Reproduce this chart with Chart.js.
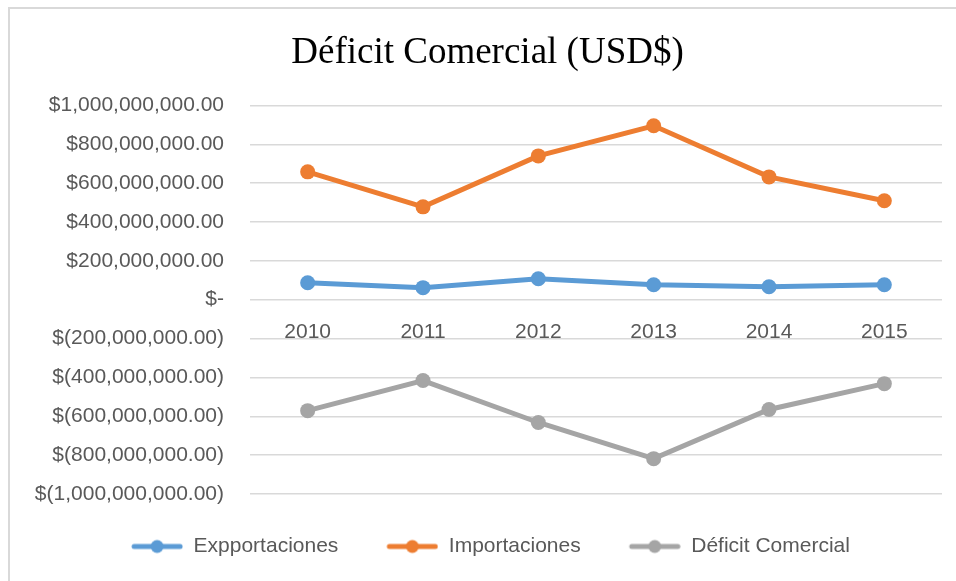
<!DOCTYPE html>
<html>
<head>
<meta charset="utf-8">
<title>Déficit Comercial (USD$)</title>
<script src="https://cdn.jsdelivr.net/npm/chart.js@4.4.1/dist/chart.umd.min.js"></script>
<style>
  html, body { margin: 0; padding: 0; background: #fff; overflow: hidden; }
  #frame {
    position: absolute; left: 8px; top: 7px; width: 1000px; height: 700px;
    border: 2px solid #d9d9d9; box-sizing: border-box;
  }
  #wrap { position: absolute; left: 0; top: 0; width: 956px; height: 581px; }
</style>
</head>
<body>
<div id="frame"></div>
<div id="wrap"><canvas id="chart"></canvas></div>
<script>
  // Data
  var years = ["2010", "2011", "2012", "2013", "2014", "2015"];
  var exportaciones = [87000000, 62000000, 108000000, 77000000, 67000000, 77000000];
  var importaciones = [658000000, 478000000, 740000000, 895000000, 632000000, 509000000];
  var deficit = [-571000000, -416000000, -632000000, -818000000, -565000000, -432000000];

  var blue = "#5b9bd5";
  var orange = "#ed7d31";
  var grey = "#a5a5a5";
  var sans = "'Liberation Sans', Arial, sans-serif";

  // dollar format like excel accounting
  function money(v) {
    if (v === 0) return "$-";
    var s = Math.abs(v).toLocaleString("en-US", { minimumFractionDigits: 2, maximumFractionDigits: 2 });
    return v < 0 ? "$(" + s + ")" : "$" + s;
  }

  // legend marker: line with a dot in the middle (some blank room on the left)
  function legendMark(color) {
    var c = document.createElement("canvas");
    c.width = 58; c.height = 16;
    var g = c.getContext("2d");
    g.strokeStyle = color;
    g.lineWidth = 5;
    g.lineCap = "round";
    g.beginPath(); g.moveTo(9, 8); g.lineTo(55, 8); g.stroke();
    g.fillStyle = color;
    g.beginPath(); g.arc(32, 8, 6.5, 0, Math.PI * 2); g.fill();
    return c;
  }

  function serie(label, data, color) {
    return {
      label: label,
      data: data,
      borderColor: color,
      backgroundColor: color,
      borderWidth: 5,
      pointStyle: "circle",
      pointRadius: 7.5,
      pointHoverRadius: 7.5,
      pointBackgroundColor: color,
      pointBorderWidth: 0,
      tension: 0
    };
  }

  var ctx = document.getElementById("chart").getContext("2d");
  var myChart = new Chart(ctx, {
    type: "line",
    data: {
      labels: years,
      datasets: [
        serie("Expportaciones", exportaciones, blue),
        serie("Importaciones", importaciones, orange),
        serie("Déficit Comercial", deficit, grey)
      ]
    },
    options: {
      responsive: true,
      maintainAspectRatio: false,
      animation: false,
      layout: { padding: { left: 33, right: 14, top: 25, bottom: 14 } },
      plugins: {
        title: {
          display: true,
          text: "Déficit Comercial (USD$)",
          color: "#000",
          font: { family: "'Liberation Serif', 'Times New Roman', serif", size: 37, weight: "normal" },
          padding: { top: 6, bottom: 30 }
        },
        legend: {
          position: "bottom",
          labels: {
            usePointStyle: true,
            pointStyleWidth: 58,
            color: "#595959",
            font: { family: sans, size: 21 },
            padding: 42,
            generateLabels: function (chart) {
              return chart.data.datasets.map(function (ds, i) {
                return {
                  text: ds.label,
                  pointStyle: legendMark(ds.borderColor),
                  fillStyle: ds.borderColor,
                  strokeStyle: ds.borderColor,
                  lineWidth: 0,
                  fontColor: "#595959",
                  datasetIndex: i,
                  hidden: false
                };
              });
            }
          }
        },
        tooltip: { enabled: false }
      },
      scales: {
        x: {
          position: { y: 0 },
          offset: true,
          grid: { display: false },
          border: { display: false },
          ticks: {
            color: "#595959",
            padding: 12,
            font: { family: sans, size: 21 }
          }
        },
        y: {
          min: -1000000000,
          max: 1000000000,
          grid: { color: "#d9d9d9", lineWidth: 1.5, drawTicks: false },
          border: { display: false },
          afterFit: function (scale) { scale.width = 217; },
          ticks: {
            stepSize: 200000000,
            color: "#595959",
            padding: 26,
            font: { family: sans, size: 21 },
            callback: function (v) { return money(v); }
          }
        }
      }
    }
  });
</script>
</body>
</html>
